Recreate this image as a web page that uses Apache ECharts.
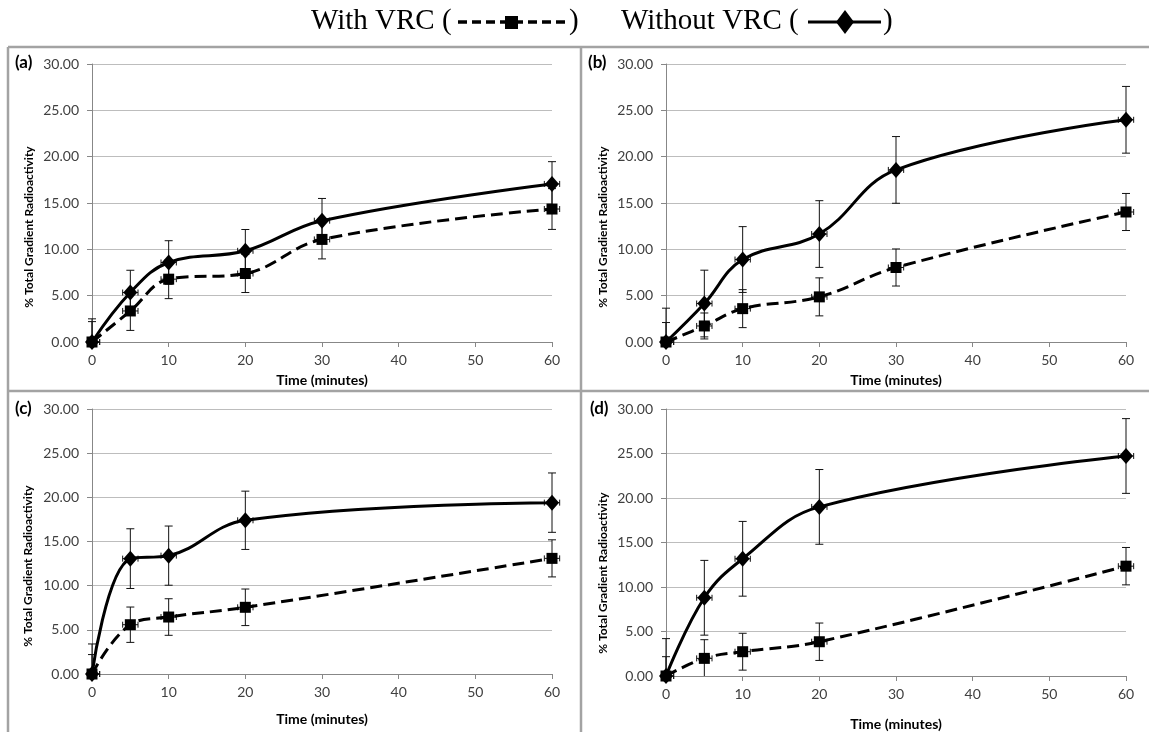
<!DOCTYPE html>
<html>
<head>
<meta charset="utf-8">
<script src="https://cdn.jsdelivr.net/npm/echarts@6/dist/echarts.min.js"></script>
<style>
html,body{margin:0;padding:0;background:#fff;}
#chart{width:1149px;height:732px;}
</style>
</head>
<body>
<div id="chart"></div>
<script>
// ---- data ----
const timesAB = [0, 5, 10, 20, 30, 60];
const timesCD = [0, 5, 10, 20, 60];
const timeErr = 1; // horizontal error (minutes)

const aWith       = [0, 3.35, 6.78, 7.39, 11.07, 14.35];
const aWithErr    = [2.2, 2.1, 2.1, 2.05, 2.1, 2.2];
const aWithout    = [0, 5.34, 8.58, 9.84, 13.09, 17.06];
const aWithoutErr = [2.5, 2.4, 2.35, 2.3, 2.4, 2.4];

const bWith       = [0, 1.73, 3.6, 4.87, 8.04, 14.03];
const bWithErr    = [2.1, 1.4, 2.05, 2.05, 2.0, 2.0];
const bWithout    = [0, 4.15, 8.9, 11.65, 18.57, 23.98];
const bWithoutErr = [3.65, 3.6, 3.55, 3.6, 3.6, 3.6];

const cWith       = [0, 5.58, 6.45, 7.55, 13.09];
const cWithErr    = [2.2, 2.0, 2.07, 2.07, 2.1];
const cWithout    = [0, 13.06, 13.4, 17.4, 19.4];
const cWithoutErr = [3.4, 3.38, 3.35, 3.3, 3.36];

const dWith       = [0, 1.98, 2.73, 3.85, 12.34];
const dWithErr    = [2.17, 2.1, 2.07, 2.1, 2.1];
const dWithout    = [0, 8.79, 13.17, 19.0, 24.72];
const dWithoutErr = [4.2, 4.2, 4.2, 4.2, 4.2];

const panelLabels = ['(a)', '(b)', '(c)', '(d)'];
const seriesNames = ['With VRC', 'Without VRC'];
const xTitle = 'Time (minutes)';
const yTitle = '% Total Gradient Radioactivity';
const yMin = 0, yMax = 30, yStep = 5;
const xMin = 0, xMax = 60, xStep = 10;

// ---- layout ----
const panels = [
  {t: timesAB, w: aWith, we: aWithErr, o: aWithout, oe: aWithoutErr,
   grid: {left: 92, top: 64, width: 460, height: 278}, nameGap: 31,
   lab: [15, 63], yt: [29, 227]},
  {t: timesAB, w: bWith, we: bWithErr, o: bWithout, oe: bWithoutErr,
   grid: {left: 666, top: 64, width: 460, height: 278}, nameGap: 31,
   lab: [588, 63], yt: [603, 227]},
  {t: timesCD, w: cWith, we: cWithErr, o: cWithout, oe: cWithoutErr,
   grid: {left: 92, top: 409, width: 460, height: 265}, nameGap: 38,
   lab: [15, 409], yt: [28, 566]},
  {t: timesCD, w: dWith, we: dWithErr, o: dWithout, oe: dWithoutErr,
   grid: {left: 666, top: 409, width: 460, height: 268}, nameGap: 41,
   lab: [590, 409], yt: [603, 573]}
];

const FONT = 'Lato, "Open Sans", sans-serif';
const axisGray = '#878787';

function errorRender(params, api) {
  const x = api.value(0), y = api.value(1), e = api.value(2);
  const top = api.coord([x, y + e]);
  const bot = api.coord([x, Math.max(y - e, yMin)]);
  const lx = Math.max(x - timeErr, xMin);
  const left = api.coord([lx, y]);
  const right = api.coord([x + timeErr, y]);
  const st = {stroke: '#111', lineWidth: 1};
  const cw = 4, ch = 3;
  const ch_ = [
    {type: 'line', shape: {x1: top[0], y1: top[1], x2: bot[0], y2: bot[1]}, style: st},
    {type: 'line', shape: {x1: top[0] - cw, y1: top[1], x2: top[0] + cw, y2: top[1]}, style: st},
    {type: 'line', shape: {x1: left[0], y1: left[1], x2: right[0], y2: right[1]}, style: st},
    {type: 'line', shape: {x1: right[0], y1: right[1] - ch, x2: right[0], y2: right[1] + ch}, style: st}
  ];
  if (y - e >= yMin) {
    ch_.push({type: 'line', shape: {x1: bot[0] - cw, y1: bot[1], x2: bot[0] + cw, y2: bot[1]}, style: st});
  }
  if (x - timeErr >= xMin) {
    ch_.push({type: 'line', shape: {x1: left[0], y1: left[1] - ch, x2: left[0], y2: left[1] + ch}, style: st});
  }
  return {type: 'group', children: ch_};
}

const grids = [], xAxes = [], yAxes = [], series = [], graphics = [];

panels.forEach((p, i) => {
  grids.push(Object.assign({containLabel: false}, p.grid));
  xAxes.push({
    type: 'value', gridIndex: i, min: xMin, max: xMax, interval: xStep,
    name: xTitle, nameLocation: 'middle', nameGap: p.nameGap,
    nameTextStyle: {fontFamily: FONT, fontWeight: 'bold', fontSize: 14, color: '#000'},
    axisLine: {show: true, onZero: false, lineStyle: {color: axisGray, width: 1}},
    axisTick: {show: true, length: 5, lineStyle: {color: axisGray}},
    axisLabel: {fontFamily: FONT, fontSize: 14, color: '#404040', margin: 11},
    splitLine: {show: false}
  });
  yAxes.push({
    type: 'value', gridIndex: i, min: yMin, max: yMax, interval: yStep,
    axisLine: {show: true, lineStyle: {color: axisGray, width: 1}},
    axisTick: {show: true, length: 5, lineStyle: {color: axisGray}},
    axisLabel: {fontFamily: FONT, fontSize: 14, color: '#404040', margin: 13,
      formatter: v => v.toFixed(2)},
    splitLine: {show: true, lineStyle: {color: '#bdbdbd', width: 1}}
  });
  const mk = (vals, errs) => p.t.map((t, j) => [t, vals[j], errs[j]]);
  series.push({
    type: 'custom', xAxisIndex: i, yAxisIndex: i, renderItem: errorRender,
    data: mk(p.w, p.we), encode: {x: 0, y: 1}, z: 2, silent: true
  });
  series.push({
    type: 'custom', xAxisIndex: i, yAxisIndex: i, renderItem: errorRender,
    data: mk(p.o, p.oe), encode: {x: 0, y: 1}, z: 2, silent: true
  });
  series.push({
    name: seriesNames[0], type: 'line', xAxisIndex: i, yAxisIndex: i,
    data: p.t.map((t, j) => [t, p.w[j]]), smooth: 0.4,
    symbol: 'rect', symbolSize: 11, showSymbol: true,
    lineStyle: {color: '#000', width: 3, type: [12, 6]},
    itemStyle: {color: '#000'}, z: 3
  });
  series.push({
    name: seriesNames[1], type: 'line', xAxisIndex: i, yAxisIndex: i,
    data: p.t.map((t, j) => [t, p.o[j]]), smooth: 0.4,
    symbol: 'diamond', symbolSize: [14, 16], showSymbol: true,
    lineStyle: {color: '#000', width: 3},
    itemStyle: {color: '#000'}, z: 4
  });
  graphics.push({
    type: 'text', x: p.lab[0], y: p.lab[1],
    style: {text: panelLabels[i], font: 'bold 17px ' + FONT, fill: '#000', verticalAlign: 'middle'}
  });
  graphics.push({
    type: 'text', x: p.yt[0], y: p.yt[1], rotation: Math.PI / 2,
    style: {text: yTitle, font: 'bold 12px ' + FONT, fill: '#000',
      align: 'center', verticalAlign: 'middle'}
  });
});

// panel frame
const frame = '#a3a3a3';
[[8, 47, 1149, 47], [8, 47, 8, 732], [581, 47, 581, 732], [8, 391, 1149, 391]].forEach(l => {
  graphics.push({type: 'line', shape: {x1: l[0], y1: l[1], x2: l[2], y2: l[3]},
    style: {stroke: frame, lineWidth: 2.5}, z: 0});
});

// legend (title line)
const serif = '"Liberation Serif", "Times New Roman", serif';
graphics.push({type: 'text', x: 311, y: 21, style: {text: seriesNames[0] + ' (', font: '29px ' + serif, fill: '#000', verticalAlign: 'middle'}});
graphics.push({type: 'line', shape: {x1: 458, y1: 22, x2: 567, y2: 22}, style: {stroke: '#000', lineWidth: 3.5, lineDash: [9, 5]}});
graphics.push({type: 'rect', shape: {x: 505, y: 16, width: 13, height: 13}, style: {fill: '#000'}});
graphics.push({type: 'text', x: 569, y: 21, style: {text: ')', font: '29px ' + serif, fill: '#000', verticalAlign: 'middle'}});
graphics.push({type: 'text', x: 621, y: 21, style: {text: seriesNames[1] + ' (', font: '29px ' + serif, fill: '#000', verticalAlign: 'middle'}});
graphics.push({type: 'line', shape: {x1: 808, y1: 22, x2: 881, y2: 22}, style: {stroke: '#000', lineWidth: 3}});
graphics.push({type: 'polygon', shape: {points: [[845, 10], [854, 22], [845, 34], [836, 22]]}, style: {fill: '#000'}});
graphics.push({type: 'text', x: 883, y: 21, style: {text: ')', font: '29px ' + serif, fill: '#000', verticalAlign: 'middle'}});

const chart = echarts.init(document.getElementById('chart'), null, {renderer: 'canvas'});
chart.setOption({
  animation: false,
  backgroundColor: '#fff',
  grid: grids, xAxis: xAxes, yAxis: yAxes, series: series,
  graphic: {elements: graphics}
});
</script>
</body>
</html>
